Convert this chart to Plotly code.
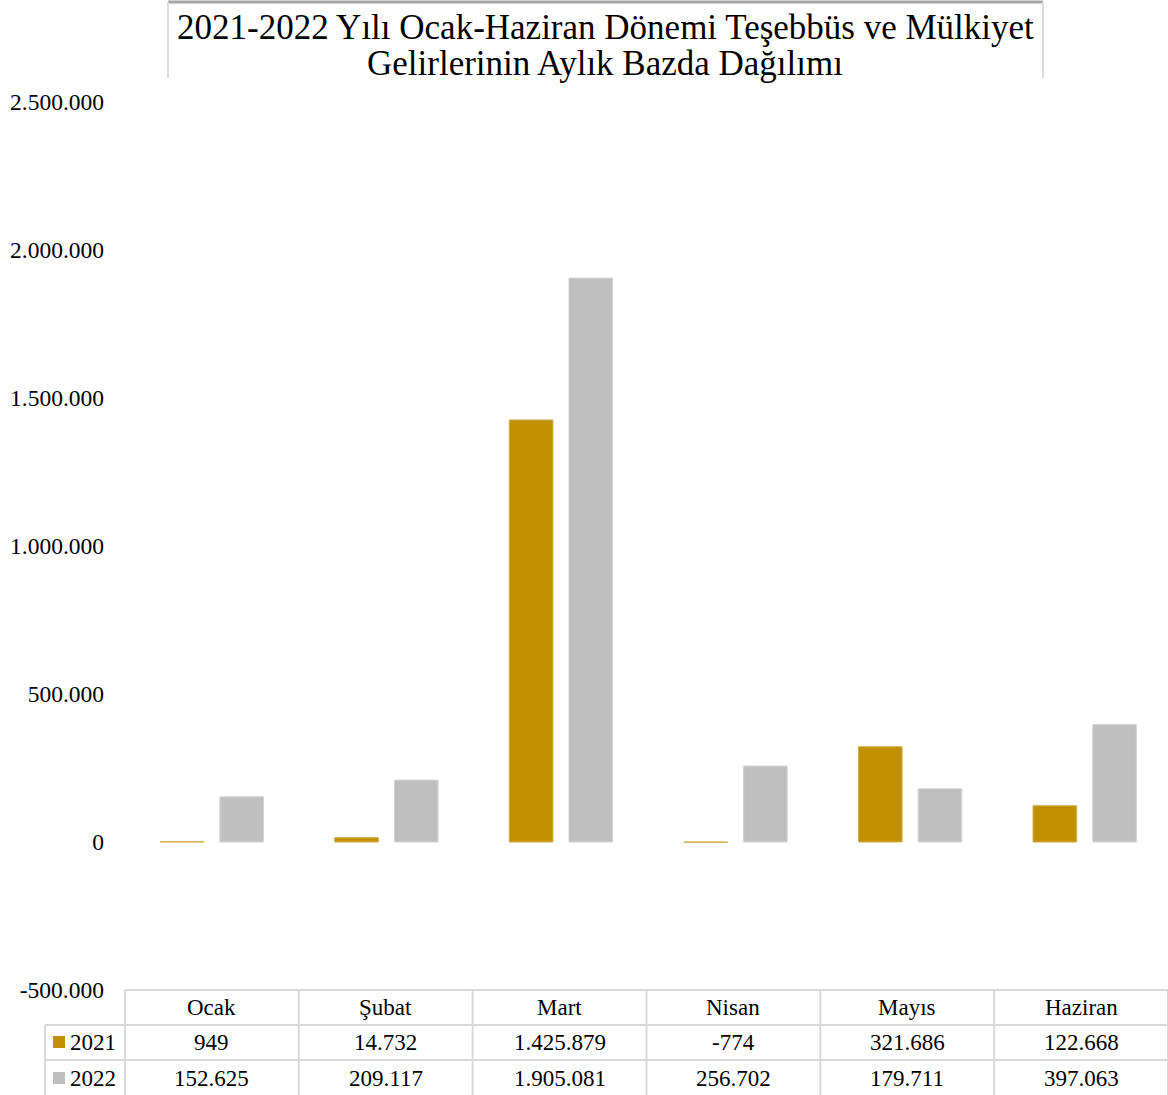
import plotly.graph_objects as go

categories = ["Ocak", "Şubat", "Mart", "Nisan", "Mayıs", "Haziran"]
series_names = ["2021", "2022"]
values_2021 = [949, 14732, 1425879, -774, 321686, 122668]
values_2022 = [152625, 209117, 1905081, 256702, 179711, 397063]
y_ticks = [-500000, 0, 500000, 1000000, 1500000, 2000000, 2500000]

title_line1 = "2021-2022 Yılı Ocak-Haziran Dönemi Teşebbüs ve Mülkiyet"
title_line2 = "Gelirlerinin Aylık Bazda Dağılımı"

COL_2021 = "#BF9000"
COL_2022 = "#BFBFBF"
GRID = "#D9D9D9"
FONT = "Liberation Serif"

W, H = 1168, 1095
L, R, T, B = 125, 0, 102, 105
PW, PH = W - L - R, H - T - B


def px(x):
    return (x - L) / PW


def py(y):
    return (H - B - y) / PH


def fmt(v):
    return f"{v:,}".replace(",", ".")


fig = go.Figure()
fig.add_trace(go.Bar(x=categories, y=values_2021, name=series_names[0],
                     marker=dict(color=COL_2021, line=dict(color="#D2AE4A", width=1)),
                     width=0.25, offset=-0.297))
fig.add_trace(go.Bar(x=categories, y=values_2022, name=series_names[1],
                     marker=dict(color=COL_2022, line=dict(color="#D4D4D4", width=1)),
                     width=0.25, offset=0.045))

shapes = []
annotations = []

# Title box
shapes.append(dict(type="rect", xref="paper", yref="paper",
                   x0=px(168), x1=px(1043), y0=py(78), y1=py(2),
                   fillcolor="white", line=dict(width=0), layer="below"))
shapes.append(dict(type="line", xref="paper", yref="paper",
                   x0=px(168), x1=px(1043), y0=py(2), y1=py(2),
                   line=dict(color="#A6A6A6", width=3)))
for xx in (168, 1043):
    shapes.append(dict(type="line", xref="paper", yref="paper",
                       x0=px(xx), x1=px(xx), y0=py(78), y1=py(2),
                       line=dict(color="#DCDCDC", width=2)))
for txt, ty in ((title_line1, 27), (title_line2, 63)):
    annotations.append(dict(text=txt, xref="paper", yref="paper",
                            x=px(605), y=py(ty), xanchor="center", yanchor="middle",
                            showarrow=False,
                            font=dict(family=FONT, size=35, color="#000000")))

# Data table
col_edges = [125 + i * (W - 125) / len(categories) for i in range(len(categories) + 1)]
row_edges = [990, 1025, 1060, 1095]
line_style = dict(color=GRID, width=2)
shapes.append(dict(type="line", xref="paper", yref="paper",
                   x0=px(125), x1=px(W), y0=py(row_edges[0]), y1=py(row_edges[0]), line=line_style))
for ry in row_edges[1:3]:
    shapes.append(dict(type="line", xref="paper", yref="paper",
                       x0=px(45), x1=px(W), y0=py(ry), y1=py(ry), line=line_style))
shapes.append(dict(type="line", xref="paper", yref="paper",
                   x0=px(45), x1=px(45), y0=py(row_edges[1]), y1=py(H), line=line_style))
for cx in col_edges:
    shapes.append(dict(type="line", xref="paper", yref="paper",
                       x0=px(cx), x1=px(cx), y0=py(row_edges[0]), y1=py(H), line=line_style))

tfont = dict(family=FONT, size=23, color="#000000")
for i, cat in enumerate(categories):
    cx = (col_edges[i] + col_edges[i + 1]) / 2
    for txt, ty in ((cat, 1007), (fmt(values_2021[i]), 1042), (fmt(values_2022[i]), 1078)):
        annotations.append(dict(text=txt, xref="paper", yref="paper", x=px(cx), y=py(ty),
                                xanchor="center", yanchor="middle",
                                showarrow=False, font=tfont))

for name, col, ry in ((series_names[0], COL_2021, 1042), (series_names[1], COL_2022, 1078)):
    shapes.append(dict(type="rect", xref="paper", yref="paper",
                       x0=px(53), x1=px(65), y0=py(ry + 6), y1=py(ry - 6),
                       fillcolor=col, line=dict(width=0)))
    annotations.append(dict(text=name, xref="paper", yref="paper", x=px(68), y=py(ry),
                            xanchor="left", yanchor="middle", showarrow=False, font=tfont))

fig.update_layout(
    width=W, height=H,
    margin=dict(l=L, r=R, t=T, b=B, pad=0),
    paper_bgcolor="white", plot_bgcolor="white",
    separators=",.",
    barmode="group",
    showlegend=False,
    shapes=shapes,
    annotations=annotations,
    xaxis=dict(range=[-0.498, 5.476], showticklabels=False, showgrid=False,
               zeroline=False, showline=False, fixedrange=True),
    yaxis=dict(range=[-500000, 2500000], tickvals=y_ticks,
               ticktext=[fmt(v) for v in y_ticks],
               showgrid=False, zeroline=False, showline=False,
               ticklabelstandoff=20,
               tickfont=dict(family=FONT, size=23.5, color="#000000")),
)

fig.write_html("out.html", config={"displayModeBar": False},
               post_script="document.body.style.margin='0';document.body.style.overflow='hidden';")
